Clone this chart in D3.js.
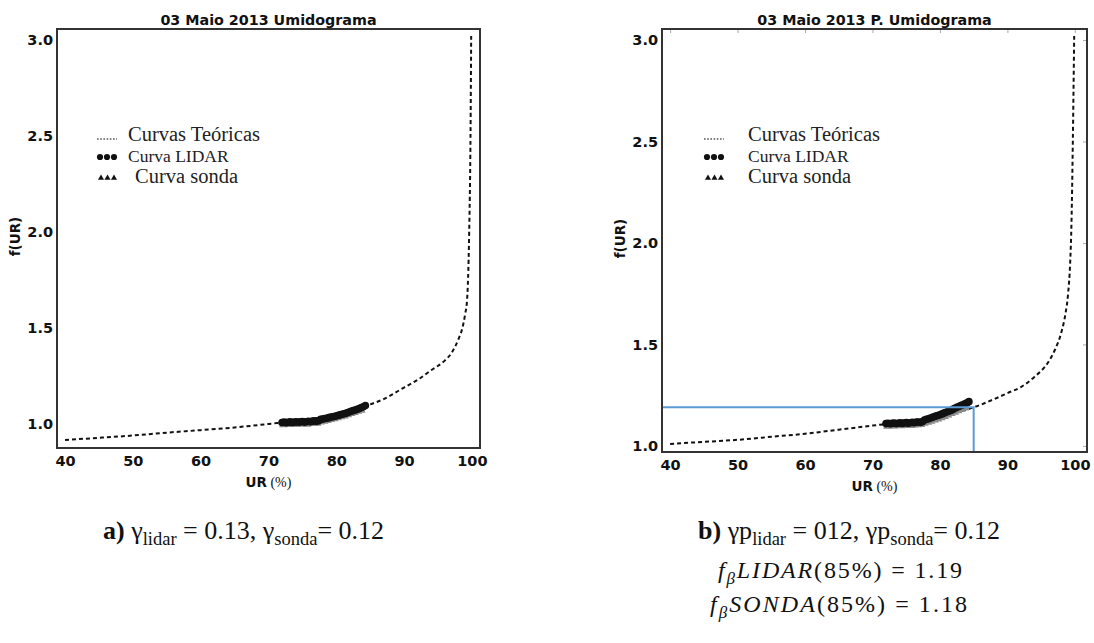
<!DOCTYPE html>
<html>
<head>
<meta charset="utf-8">
<script src="https://cdn.jsdelivr.net/npm/d3@7"></script>
<style>
  html, body { margin: 0; padding: 0; background: #fff; }
  svg { display: block; }
</style>
</head>
<body>
<svg id="chart" width="1094" height="643"></svg>
<script>
// Axis ticks
const urTicks = [40, 50, 60, 70, 80, 90, 100];
const fTicks = [1.0, 1.5, 2.0, 2.5, 3.0];

// Panel a) — theoretical humidogram curve
const curveA_ur = [40, 45, 50, 55, 60, 65, 70, 75, 80, 84, 87, 90, 92, 94, 96, 97, 98, 98.6, 99, 99.3, 99.6, 99.8, 99.9];
const curveA_f  = [0.917, 0.928, 0.94, 0.955, 0.968, 0.982, 1.0, 1.02, 1.05, 1.09, 1.13, 1.19, 1.23, 1.28, 1.33, 1.37, 1.44, 1.50, 1.57, 1.65, 1.99, 2.5, 3.02];

// Panel a) — LIDAR and radiosonde points
const lidarA_ur = [72.0,72.3,72.6,72.9,73.2,73.5,73.8,74.1,74.4,74.7,75.0,75.3,75.6,75.9,76.2,76.5,76.8,77.1,77.4,77.7,78.0,78.3,78.6,78.9,79.2,79.5,79.8,80.1,80.4,80.7,81.0,81.3,81.6,81.9,82.2,82.5,82.8,83.1,83.4,83.7,84.0,84.3];
const lidarA_f  = [1.008,1.010,1.007,1.009,1.011,1.008,1.010,1.012,1.009,1.011,1.013,1.010,1.012,1.014,1.012,1.015,1.016,1.014,1.017,1.024,1.026,1.028,1.030,1.033,1.036,1.038,1.040,1.043,1.046,1.049,1.052,1.055,1.058,1.062,1.066,1.070,1.073,1.077,1.081,1.086,1.090,1.096];
const sondaA_ur = [72.2,72.7,73.2,73.7,74.2,74.7,75.2,75.7,76.2,76.7,77.2,77.7,78.2,78.7,79.2,79.7,80.2,80.7,81.2,81.7,82.2,82.7,83.2,83.7];
const sondaA_f  = [0.996,0.998,0.997,0.999,0.998,1.000,1.001,0.999,1.002,1.003,1.004,1.010,1.014,1.018,1.023,1.027,1.032,1.037,1.042,1.048,1.054,1.060,1.066,1.072];

// Panel b) — theoretical curve (P. humidogram)
const curveB_ur = [40, 45, 50, 55, 60, 65, 70, 75, 80, 85, 88, 90, 92, 94, 96, 97, 98, 98.6, 99, 99.3, 99.5, 99.7, 99.9];
const curveB_f  = [1.01, 1.02, 1.03, 1.045, 1.06, 1.08, 1.10, 1.12, 1.15, 1.19, 1.23, 1.26, 1.29, 1.34, 1.41, 1.47, 1.56, 1.65, 1.75, 1.90, 2.1, 2.5, 3.02];

// Panel b) — LIDAR and radiosonde points
const lidarB_ur = lidarA_ur;
const lidarB_f  = [1.110,1.112,1.109,1.111,1.113,1.110,1.112,1.114,1.111,1.113,1.115,1.112,1.114,1.116,1.114,1.117,1.118,1.116,1.119,1.128,1.131,1.134,1.137,1.141,1.145,1.148,1.151,1.155,1.159,1.163,1.167,1.171,1.175,1.180,1.185,1.190,1.194,1.199,1.203,1.208,1.212,1.218];
const sondaB_ur = sondaA_ur;
const sondaB_f  = [1.097,1.099,1.098,1.100,1.099,1.101,1.102,1.100,1.103,1.104,1.105,1.112,1.117,1.122,1.128,1.133,1.139,1.145,1.152,1.159,1.166,1.173,1.180,1.187];

// Reference reading at RH = 85 %
const refUR = 85;
const refF = 1.19;

const legendLabels = ["Curvas Teóricas", "Curva LIDAR", "Curva sonda"];

const svg = d3.select("#chart");
const sans = "'DejaVu Sans', Verdana, sans-serif";
const serif = "'Liberation Serif', 'Times New Roman', serif";

function zip(xs, ys) { return xs.map((x, i) => ({ x, y: ys[i] })); }

function panel(opt) {
  const g = svg.append("g");
  const x = d3.scaleLinear().domain(opt.xDomain).range([opt.left, opt.right]);
  const y = d3.scaleLinear().domain(opt.yDomain).range([opt.bottom, opt.top]);

  // title
  g.append("text")
    .attr("x", (opt.left + opt.right) / 2).attr("y", 25)
    .attr("text-anchor", "middle")
    .style("font-family", sans)
    .style("font-weight", "bold").style("font-size", "14.3px")
    .attr("fill", "#111")
    .text(opt.title);

  // inner ticks on top and right edges
  if (opt.innerTicks) {
    g.append("g").attr("transform", `translate(0,${opt.top})`)
      .call(d3.axisTop(x).tickValues(urTicks).tickSize(-4).tickFormat(""))
      .call(s => s.select(".domain").remove())
      .call(s => s.selectAll("line").attr("stroke", "#aaa"));
    g.append("g").attr("transform", `translate(${opt.right},0)`)
      .call(d3.axisRight(y).tickValues(fTicks).tickSize(-4).tickFormat(""))
      .call(s => s.select(".domain").remove())
      .call(s => s.selectAll("line").attr("stroke", "#aaa"));
  }

  // x axis labels
  const xa = g.append("g").attr("transform", `translate(0,${opt.bottom})`)
    .call(d3.axisBottom(x).tickValues(urTicks).tickSize(0).tickPadding(8).tickFormat(d3.format("d")));
  xa.select(".domain").remove();
  xa.selectAll("text")
    .style("font-family", sans)
    .style("font-weight", "bold").style("font-size", "14.5px").attr("fill", "#111");

  // y axis labels
  const ya = g.append("g").attr("transform", `translate(${opt.left},0)`)
    .call(d3.axisLeft(y).tickValues(fTicks).tickSize(0).tickPadding(4).tickFormat(d3.format(".1f")));
  ya.select(".domain").remove();
  ya.selectAll("text")
    .style("font-family", sans)
    .style("font-weight", "bold").style("font-size", "14.5px").attr("fill", "#111");

  // axis titles
  const xt = g.append("text")
    .attr("x", (opt.left + opt.right) / 2).attr("y", opt.bottom + 39)
    .attr("text-anchor", "middle").attr("fill", "#111");
  xt.append("tspan").text("UR")
    .style("font-family", sans)
    .style("font-weight", "bold").style("font-size", "13.5px");
  xt.append("tspan").text(" (%)")
    .style("font-family", serif).style("font-size", "14px");

  g.append("text")
    .attr("transform", `translate(${opt.left - 37},${(opt.top + opt.bottom) / 2 - 2}) rotate(-90)`)
    .attr("text-anchor", "middle").attr("fill", "#111")
    .style("font-family", sans)
    .style("font-weight", "bold").style("font-size", "13.5px")
    .text("f(UR)");

  // theoretical curve
  const line = d3.line().x(d => x(d.x)).y(d => y(d.y)).curve(d3.curveMonotoneX);
  g.append("path").datum(zip(opt.curveUR, opt.curveF))
    .attr("d", line).attr("fill", "none")
    .attr("stroke", "#111").attr("stroke-width", 2).attr("stroke-dasharray", "4,3");

  // radiosonde triangles (grey, beneath)
  const tri = d3.symbol().type(d3.symbolTriangle).size(32);
  g.append("g").selectAll("path").data(zip(opt.sondaUR, opt.sondaF)).join("path")
    .attr("d", tri)
    .attr("transform", d => `translate(${x(d.x)},${y(d.y)})`)
    .attr("fill", "#8a8a8a");

  // LIDAR dots
  g.append("g").selectAll("circle").data(zip(opt.lidarUR, opt.lidarF)).join("circle")
    .attr("cx", d => x(d.x)).attr("cy", d => y(d.y)).attr("r", 3.8)
    .attr("fill", "#111");

  // reference guide lines
  if (opt.ref) {
    g.append("path")
      .attr("d", `M${opt.left},${y(opt.ref.f)}H${x(opt.ref.ur)}V${opt.bottom}`)
      .attr("fill", "none").attr("stroke", "#5b9bd5").attr("stroke-width", 2);
  }

  // frame
  g.append("rect")
    .attr("x", opt.left).attr("y", opt.top)
    .attr("width", opt.right - opt.left).attr("height", opt.bottom - opt.top)
    .attr("fill", "none").attr("stroke", "#333").attr("stroke-width", 2);

  // legend
  const lg = g.append("g").attr("transform", `translate(${opt.legX},${opt.legY})`);
  lg.append("line").attr("x1", 0).attr("x2", 20).attr("y1", 4).attr("y2", 4)
    .attr("stroke", "#555").attr("stroke-width", 1.3).attr("stroke-dasharray", "1.6,1.6");
  lg.selectAll("circle.leg").data([3, 10, 17]).join("circle").attr("class", "leg")
    .attr("cx", d => d).attr("cy", 22).attr("r", 3.1).attr("fill", "#111");
  lg.selectAll("path.leg").data([4, 10.5, 17]).join("path").attr("class", "leg")
    .attr("d", d3.symbol().type(d3.symbolTriangle).size(16))
    .attr("transform", d => `translate(${d},43)`).attr("fill", "#111");
  const fs = ["20.5px", "17.5px", "20.5px"];
  legendLabels.forEach((t, i) => {
    lg.append("text").attr("x", opt.legDx[i]).attr("y", [6, 27, 48][i])
      .style("font-family", serif)
      .style("font-size", fs[i]).attr("fill", "#222").text(t);
  });
}

panel({
  title: "03 Maio 2013 Umidograma",
  left: 57, right: 480, top: 29, bottom: 448,
  xDomain: [38.82, 101.2], yDomain: [0.875, 3.057],
  curveUR: curveA_ur, curveF: curveA_f,
  lidarUR: lidarA_ur, lidarF: lidarA_f,
  sondaUR: sondaA_ur, sondaF: sondaA_f,
  legX: 97, legY: 135, legDx: [31, 31, 38], innerTicks: false
});

panel({
  title: "03 Maio 2013 P. Umidograma",
  left: 662, right: 1087, top: 29, bottom: 452,
  xDomain: [38.8, 101.8], yDomain: [0.97, 3.054],
  curveUR: curveB_ur, curveF: curveB_f,
  lidarUR: lidarB_ur, lidarF: lidarB_f,
  sondaUR: sondaB_ur, sondaF: sondaB_f,
  legX: 704, legY: 135, legDx: [44, 44, 44], innerTicks: true,
  ref: { ur: refUR, f: refF }
});

// Captions
function caption(x0, y0, parts, size, subSize, width) {
  const t = svg.append("text").attr("x", x0).attr("y", y0)
    .style("font-family", serif).style("font-size", size + "px").attr("fill", "#111");
  let shift = 0;
  parts.forEach(p => {
    const s = t.append("tspan").text(p.t);
    const target = p.sub ? 6 : 0;
    if (target !== shift) { s.attr("dy", target - shift); shift = target; }
    if (p.sub) s.style("font-size", subSize + "px");
    if (p.b) s.style("font-weight", "bold");
    if (p.i) s.style("font-style", "italic");
  });
  if (width) t.attr("textLength", width).attr("lengthAdjust", "spacing");
}

caption(103, 539, [
  { t: "a)", b: true }, { t: " γ" }, { t: "lidar", sub: true },
  { t: " = 0.13, γ" }, { t: "sonda", sub: true }, { t: "= 0.12" }
], 26, 18.5);

caption(698, 539, [
  { t: "b)", b: true }, { t: " γp" }, { t: "lidar", sub: true },
  { t: " = 012, γp" }, { t: "sonda", sub: true }, { t: "= 0.12" }
], 26, 18.5);

caption(718, 578, [
  { t: "f", i: true }, { t: "β", sub: true, i: true }, { t: "LIDAR", i: true },
  { t: "(85%) = 1.19" }
], 24, 17, 244);

caption(710, 612, [
  { t: "f", i: true }, { t: "β", sub: true, i: true }, { t: "SONDA", i: true },
  { t: "(85%) = 1.18" }
], 24, 17, 257);
</script>
</body>
</html>
